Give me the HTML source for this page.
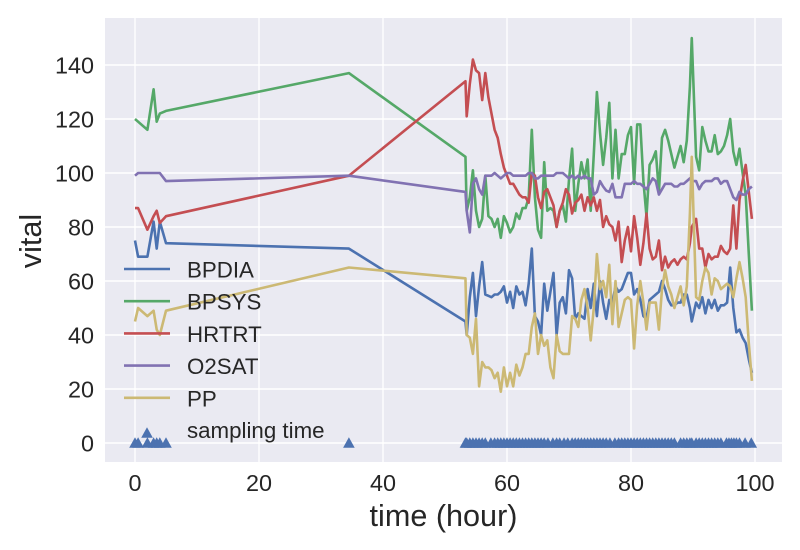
<!DOCTYPE html>
<html>
<head>
<meta charset="utf-8">
<style>
html,body{margin:0;padding:0;background:#fff;width:800px;height:550px;overflow:hidden}
svg{display:block}
text{font-family:"Liberation Sans",sans-serif;fill:#262626}
</style>
</head>
<body>
<svg id="chart" width="800" height="550" viewBox="0 0 800 550" xmlns="http://www.w3.org/2000/svg"></svg>
<script>
const times = [0,0.5,2,3,3.5,4,5,34.5,53.3,
53.5,54,54.5,55,55.5,56,56.5,57,57.5,58,
58.5,59,59.5,60,60.5,61,61.5,62,62.5,63,
63.5,64,64.5,65,65.5,66,66.5,67,67.5,68,
68.5,69,69.5,70,70.5,71,71.5,72,72.5,73,
73.5,74,74.5,75,75.5,76,76.5,77,77.5,78,
78.5,79,79.5,80,80.5,81,81.5,82,82.5,83,
83.5,84,84.5,85,85.5,86,86.5,87,87.5,88,
88.5,89,89.5,89.8,90.5,91,91.5,92,92.5,93,
93.5,94,94.5,95,95.5,96,96.5,97,97.5,98,
98.5,99,99.5];
const bpdia = [75,69,69,82,72,82,74,72,45,
40,54,63,47,58,67,55,54.5,54,55,
55,56,58,52,56,50,58,55,56,51,
59,72,47,45,40,59,49,56,63,40,
52,54,48,64,61,46,48,47,46,57,
50,59,47,60,52,46,53,52,58,56,
57,60,63,63,55,57,53,47,46,53,
54,55,56,60,57,53,51,51,52,52,
55,55,50,45,52,50,54,48,53,50,
53,49,51,51,52,65,50,41,42,39,
37,31,26];
const bpsys = [120,119,116,131,119,122,123,137,106,
86,91,101,86,80,83,99,84,83,80,
83,76,84,81.5,78,80,85,83,87,87,
91,116,91,79,76,104,86,87,86,80,
86,88,82,97.5,109,86,96,104,98,105,
86,107,130,115,103,113,126,98,116,98,
107,107,114,117,96,118,118,97,84,103,
105,108,93,113,116,112,107,102,106,110,
104,112,132,150,106,101,117,112,108,108,
114,107,108,110,114,120,108,103,109,100,
92,70,49];
const hrtrt = [87,87,79,84,86,81.5,84,99,134,
121,133,142,138,137,127,137,128,122,116,
113,107,102,99,96,96,94,92,91,91,
89,100,99,91,87,93,94,91,88,80,
86,89,94,92,85,89,90,92,86,91,
88,91,86,90,80,84,81,80,75,82,
67,75,80,71,84,76,66,74,85,72,
68,69,75,64,69,65,67,68,66,68,
69,68,74,80,83,72,72,65,70,68,
69,69,73,71,70,72,88,72,90,97,
103,93,83];
const o2sat = [99,100,100,100,100,100,97,99,93,
86,78,96,98,94,92,99,99,99,100,
99,98,99,100,100,99,99,99,99,99,
100,100,98,98,99,99,99,99,99,100,
100,100,99,98,99,98,99,98,99,98,
98,92,93,97,95,93.5,93,96,91,91,
91,96,96,96,97,96,96,95,94,96,
98,97,92,94,96,96,96,95,95,96,
96,97,98,97,97,94,96,97,97,97,
98,98,96,97,97,94,91,90,93,92,
92,94,95];
const pp = [45,50,47,49,42,40,49,65,61,
40,39,33,46,21,30,28,28,27,24,
26,19,28,21,26,21,29,25,28,33,
33,43,48,33,40,36,38,28,24,40,
34,33,33,33,47,46,43,53,57,50,
38,50,70,57,60,54,66,44,60,43,
48,53,54,53,35,51,60,52,42,52,
52,52,42,57,64,58,55,50,54,58,
51,58,85,106,54,53,60,65,63,55,
61,60,57,58,59,58,54,61,67,61,
54,37,23];
const sampleTimes = [0,0.5,2,3,3.5,4,5,34.5,53.3,
53.5,54,54.5,55,55.5,56,56.5,57.4,58,
58.5,59,59.5,60,60.5,61,61.5,62,62.5,63,
63.5,64,64.5,65,65.5,66,66.6,67.4,68,
68.5,69.2,69.8,70.5,71,71.5,72,72.5,73,
73.5,74,74.5,75,75.5,76,76.6,77.4,78,
78.5,79,79.5,80,80.5,81,81.5,82,82.5,83,
83.5,84,84.5,85,85.5,86,86.5,87,88,
88.5,89,89.5,89.8,90.5,91,91.5,92,92.5,93,
93.5,94,94.5,95.4,95.8,96.2,96.6,97,97.5,
98.4,99.4];
const xTicks = [0,20,40,60,80,100];
const yTicks = [0,20,40,60,80,100,120,140];
const seriesNames = ['BPDIA','BPSYS','HRTRT','O2SAT','PP'];
const seriesValues = [bpdia,bpsys,hrtrt,o2sat,pp];
const seriesColors = ['#4C72B0','#55A868','#C44E52','#8172B2','#CCB974'];
const xLabel = 'time (hour)';
const yLabel = 'vital';
const markerLabel = 'sampling time';

const svg = document.getElementById('chart');
const NS = 'http://www.w3.org/2000/svg';
function sx(v){ return 135 + v * 6.2; }
function sy(v){ return 443 - v * 2.7; }
function make(tag, attrs, parent){
  const el = document.createElementNS(NS, tag);
  for (const k in attrs) el.setAttribute(k, attrs[k]);
  (parent || svg).appendChild(el);
  return el;
}
function triangle(cx, cy, parent){
  return make('polygon', {points: (cx-5.8)+','+(cy+4.8)+' '+(cx+5.8)+','+(cy+4.8)+' '+cx+','+(cy-5.8), fill:'#4C72B0'}, parent);
}

const plot = make('rect', {x:105, y:18, width:677, height:444, fill:'#EAEAF2'});



xTicks.forEach(function(t){
  const g = make('line', {x1:sx(t), x2:sx(t), y1:18, y2:462, stroke:'#fff', 'stroke-width':1.4});
  
  
  const l = make('text', {x:sx(t), y:491, 'text-anchor':'middle', 'font-size':23.4});
  l.textContent = t;
  
  
});
yTicks.forEach(function(t){
  const g = make('line', {x1:105, x2:782, y1:sy(t), y2:sy(t), stroke:'#fff', 'stroke-width':1.4});
  
  
  const l = make('text', {x:94, y:sy(t)+8.3, 'text-anchor':'end', 'font-size':23.4});
  l.textContent = t;
  
  
});

seriesValues.forEach(function(vals, i){
  const pts = vals.map(function(v, j){ return sx(times[j]).toFixed(2) + ',' + sy(v).toFixed(2); }).join(' ');
  const line = make('polyline', {points:pts, fill:'none', stroke:seriesColors[i], 'stroke-width':2.6, 'stroke-linejoin':'round'});
  
  
});

const markers = make('g', {});


sampleTimes.forEach(function(t){
  const m = triangle(sx(t), sy(0), markers);
  
  
});

const legend = make('g', {});


seriesNames.forEach(function(n, i){
  const y = 269 + i * 32.2;
  const h = make('line', {x1:124, x2:170, y1:y, y2:y, stroke:seriesColors[i], 'stroke-width':2.6}, legend);
  
  
  const t = make('text', {x:187, y:y+8.5, 'font-size':22.3}, legend);
  t.textContent = n;
  
  
});
const lm = triangle(147, 433, legend);


const lt = make('text', {x:187, y:438, 'font-size':22.3}, legend);
lt.textContent = markerLabel;



const xt = make('text', {x:443.5, y:526, 'text-anchor':'middle', 'font-size':30.6});
xt.textContent = xLabel;


const yt = make('text', {x:0, y:0, 'text-anchor':'middle', 'font-size':30.6, transform:'translate(41,241) rotate(-90)'});
yt.textContent = yLabel;


</script>
</body>
</html>
